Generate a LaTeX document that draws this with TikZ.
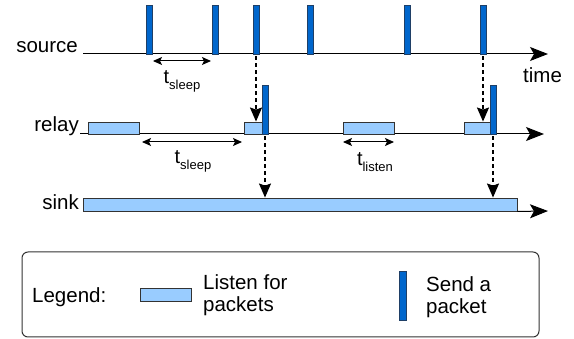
\documentclass[tikz,border=0pt]{standalone}
\usepackage{fontspec}
\setmainfont{Liberation Sans}
\usetikzlibrary{arrows.meta}
\definecolor{listenfill}{HTML}{99CCFF}
\definecolor{sendfill}{HTML}{0066CC}
\definecolor{sendline}{HTML}{1F3F66}
\definecolor{boxline}{HTML}{333333}
\begin{document}
\begin{tikzpicture}[x=1pt,y=-1pt,
  lbl/.style={font=\fontsize{20.5}{22}\selectfont, inner sep=0pt},
  listenbox/.style={draw=boxline, fill=listenfill, line width=0.9pt, inner sep=0pt, minimum height=12pt},
  sendpulse/.style={draw=sendline, fill=sendfill, line width=0.8pt, inner sep=0pt, minimum width=6pt, minimum height=49pt},
  axis/.style={line width=1pt, -{Stealth[length=18pt,width=14pt,inset=4pt]}},
  hop/.style={line width=1.5pt, dash pattern=on 4pt off 3pt, shorten <=2pt, -{Stealth[length=14pt,width=12pt,inset=2pt]}},
  span/.style={line width=1pt, {Stealth[length=9pt,width=8pt,inset=2pt]}-{Stealth[length=9pt,width=8pt,inset=2pt]}},
  tlbl/.style={font=\fontsize{20}{22}\selectfont, inner sep=0pt, anchor=base},
]
\useasboundingbox (0,0) rectangle (574,339);
\newcommand{\subtxt}[1]{\raisebox{-6pt}{\fontsize{13}{13}\selectfont #1}}

% time axes
\coordinate (srcL) at (83,54);
\coordinate (srcR) at (548,54);
\coordinate (relL) at (80,134);
\coordinate (relR) at (544,134);
\coordinate (sinkR) at (548,211);
\draw[axis] (srcL) -- (srcR);
\draw[axis] (relL) -- (relR);

% row labels
\node[lbl, anchor=base east] (lsrc) at (78,53) {source};
\node[lbl, anchor=base east] (lrel) at (79,132) {relay};
\node[lbl, anchor=base east] (lsink) at (79,210) {sink};
\node[lbl, anchor=base west] (ltime) at (523,83) {time};

% source transmissions
\node[sendpulse] (s1) at (149,29.5) {};
\node[sendpulse] (s2) at (215.5,29.5) {};
\node[sendpulse] (s3) at (256,29.5) {};
\node[sendpulse] (s4) at (310.5,29.5) {};
\node[sendpulse] (s5) at (407,29.5) {};
\node[sendpulse] (s6) at (483,29.5) {};

% relay listening windows and forwards
\node[listenbox, minimum width=51pt] (r1) at (113.5,128) {};
\node[listenbox, minimum width=18pt] (r2) at (253,128) {};
\node[listenbox, minimum width=51pt] (r3) at (368.5,128) {};
\node[listenbox, minimum width=26pt] (r4) at (477,128) {};
\node[sendpulse] (rp1) at (265,109.5) {};
\node[sendpulse] (rp2) at (493,109.5) {};

% sink always listening
\node[listenbox, minimum width=434pt, minimum height=13pt] (sink) at (300,204.5) {};
\draw[axis] (sink.south east) -- (sinkR);

% packet hops
\draw[hop] (s3.south) -- (s3.south |- r2.north);
\draw[hop] (s6.south) -- (s6.south |- r4.north);
\draw[hop] (rp1.south) -- (rp1.south |- sink.north);
\draw[hop] (rp2.south) -- (rp2.south |- sink.north);

% interval markers
\coordinate (ss1) at (153,61);
\coordinate (ss2) at (211,61);
\draw[span] (ss1) -- (ss2);
\node[tlbl] (tsleepA) at (182,84) {t\subtxt{sleep}};
\coordinate (rs1) at (142,142);
\coordinate (rs2) at (242,142);
\draw[span] (rs1) -- (rs2);
\node[tlbl] (tsleepB) at (193,164) {t\subtxt{sleep}};
\coordinate (ls1) at (343,142);
\coordinate (ls2) at (394,142);
\draw[span] (ls1) -- (ls2);
\node[tlbl] (tlisten) at (375,166) {t\subtxt{listen}};

% legend
\node[draw=boxline, line width=1pt, rounded corners=6pt, minimum width=517pt, minimum height=85pt, inner sep=0pt] (legend) at (280.5,294.5) {};
\node[lbl, anchor=base west] (legtitle) at (32,303) {Legend:};
\node[listenbox, minimum width=51pt, minimum height=13pt] (leglisten) at (165.5,294.5) {};
\node[lbl, anchor=north west, align=left] (leglistentxt) at (203,274) {Listen for\\packets};
\node[sendpulse, minimum width=7pt] (legsend) at (402.5,295.5) {};
\node[lbl, anchor=north west, align=left] (legsendtxt) at (426,276) {Send a\\packet};
\end{tikzpicture}
\end{document}
